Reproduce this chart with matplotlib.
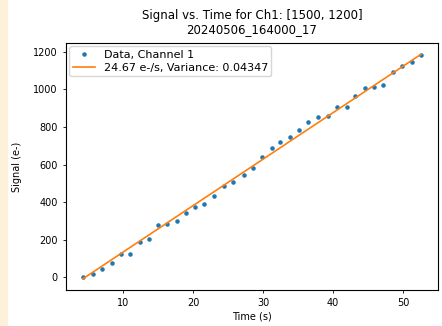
import matplotlib.pyplot as plt
import matplotlib.patches as mpatches
import numpy as np

# time (s) and measured signal (e-) for channel 1
t = [4.2, 5.6, 6.9, 8.3, 9.6, 10.9, 12.3, 13.6, 15.0, 16.3, 17.6, 18.9,
     20.3, 21.6, 23.0, 24.4, 25.7, 27.2, 28.5, 29.9, 31.2, 32.4, 33.8,
     35.1, 36.4, 37.8, 39.3, 40.6, 42.0, 43.2, 44.6, 45.9, 47.2, 48.6,
     49.9, 51.3, 52.6]
sig = [0, 18, 45, 76, 122, 122, 190, 206, 276, 284, 302, 345,
       372, 390, 434, 485, 505, 546, 582, 641, 688, 720, 748,
       782, 826, 852, 856, 908, 904, 964, 1005, 1012, 1025, 1092,
       1123, 1143, 1180]

# linear fit parameters
slope = 24.67
intercept = -111.0
variance = 0.04347

t = np.array(t)
sig = np.array(sig)

fig = plt.figure(figsize=(4.42, 3.26), dpi=100)
# beige strip on the left edge
fig.patches.append(mpatches.Rectangle((0, 0), 7 / 442, 1, transform=fig.transFigure,
                                      color="#fdf1dc", zorder=0))
ax = fig.add_axes([66 / 442, 1 - 290 / 326, (438 - 66) / 442, (290 - 43) / 326])

ax.plot(t, sig, ".", color="tab:blue", markersize=4.5, label="Data, Channel 1")
ax.plot(t, slope * t + intercept, color="tab:orange", linewidth=1.2,
        label="%.2f e-/s, Variance: %.5f" % (slope, variance))

ax.set_title("Signal vs. Time for Ch1: [1500, 1200]\n20240506_164000_17", fontsize=8.5,
             pad=7, linespacing=1.15)
ax.set_xlabel("Time (s)", fontsize=7, labelpad=2)
ax.set_ylabel("Signal (e-)", fontsize=7, labelpad=8)
ax.set_xticks([10, 20, 30, 40, 50])
ax.set_yticks([0, 200, 400, 600, 800, 1000, 1200])
ax.tick_params(labelsize=7, length=2.5, width=0.6, pad=3.5)
for s in ax.spines.values():
    s.set_linewidth(0.8)
ax.legend(loc="upper left", fontsize=8, borderaxespad=0.3, handlelength=2.0,
          framealpha=0.8, labelspacing=0.3, borderpad=0.3)

fig.savefig("out.png", dpi=100)
